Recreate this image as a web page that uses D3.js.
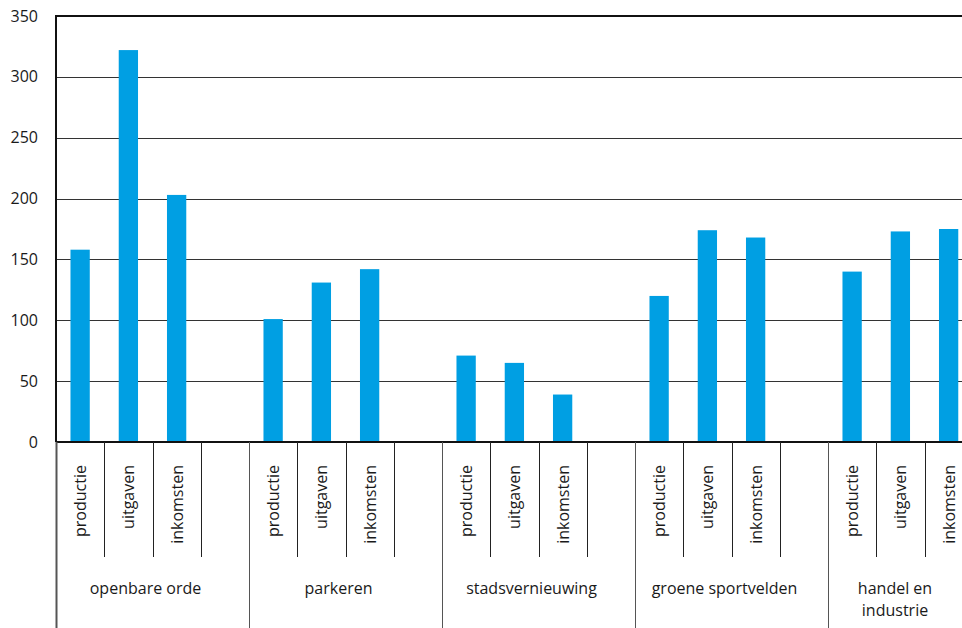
<!DOCTYPE html>
<html>
<head>
<meta charset="utf-8">
<script src="https://cdn.jsdelivr.net/npm/d3@7"></script>
<style>
  body { margin: 0; background: #fff; }
  svg { display: block; overflow: hidden; }
  text { font-family: "Open Sans", sans-serif; fill: #1a1a1a; }
</style>
</head>
<body>
<div id="chart"></div>
<script>
// categories, series and values
var groups  = ["openbare orde", "parkeren", "stadsvernieuwing", "groene sportvelden", "handel en industrie"];
var series  = ["productie", "uitgaven", "inkomsten"];
var productie = [158, 101, 71, 120, 140];
var uitgaven  = [322, 131, 65, 174, 173];
var inkomsten = [203, 142, 39, 168, 175];
var yTicks = [0, 50, 100, 150, 200, 250, 300, 350];

var values = [productie, uitgaven, inkomsten];

var width = 962, height = 628;
var plotLeft = 56, plotTop = 16, plotBase = 442;
var slotW = 48.25;  // each group has 3 bars + an empty slot
var groupW = slotW * 4;

var svg = d3.select("#chart").append("svg")
    .attr("width", width)
    .attr("height", height);

var x0 = d3.scaleBand()
    .domain(groups)
    .range([plotLeft, plotLeft + groupW * groups.length]);

var x1 = d3.scaleBand()
    .domain(series.concat([""]))
    .range([0, groupW]);

var y = d3.scaleLinear()
    .domain([0, 350])
    .range([plotBase, plotTop]);

// gridlines
svg.append("g")
  .selectAll("line")
  .data(yTicks.filter(function(d){ return d > 0 && d < 350; }))
  .enter().append("line")
    .attr("x1", plotLeft).attr("x2", width)
    .attr("y1", function(d){ return Math.round(y(d)) + 0.5; })
    .attr("y2", function(d){ return Math.round(y(d)) + 0.5; })
    .style("stroke", "#333")
    .style("stroke-width", 1);

// y tick labels
svg.append("g")
  .selectAll("text")
  .data(yTicks)
  .enter().append("text")
    .attr("x", 38)
    .attr("y", function(d){ return y(d); })
    .attr("dy", "0.35em")
    .attr("text-anchor", "end")
    .style("font-size", "16px")
    .text(function(d){ return d; });

// bars
var cells = [];
groups.forEach(function(g, gi){
  series.forEach(function(s, si){
    cells.push({group: g, serie: s, value: values[si][gi]});
  });
});

var barW = x1.bandwidth() * 0.4;
svg.append("g")
  .selectAll("rect")
  .data(cells)
  .enter().append("rect")
    .attr("x", function(d){ return x0(d.group) + x1(d.serie) + (x1.bandwidth() - barW) / 2; })
    .attr("y", function(d){ return y(d.value); })
    .attr("width", barW)
    .attr("height", function(d){ return y(0) - y(d.value); })
    .style("fill", "#009fe3");

// frame: left axis, top line, baseline
svg.append("line")
  .attr("x1", plotLeft).attr("x2", width)
  .attr("y1", plotTop).attr("y2", plotTop)
  .style("stroke", "#111").style("stroke-width", 2);
svg.append("line")
  .attr("x1", plotLeft).attr("x2", width)
  .attr("y1", plotBase).attr("y2", plotBase)
  .style("stroke", "#111").style("stroke-width", 2);
svg.append("line")
  .attr("x1", plotLeft).attr("x2", plotLeft)
  .attr("y1", plotTop - 1).attr("y2", plotBase)
  .style("stroke", "#111").style("stroke-width", 2);

// slot dividers below the axis
var slotLines = [];
groups.forEach(function(g){
  x1.domain().forEach(function(s, i){
    if (i > 0) slotLines.push(x0(g) + x1(s));
  });
});
svg.append("g")
  .selectAll("line")
  .data(slotLines)
  .enter().append("line")
    .attr("x1", function(d){ return Math.round(d) + 0.5; })
    .attr("x2", function(d){ return Math.round(d) + 0.5; })
    .attr("y1", plotBase).attr("y2", 557)
    .style("stroke", "#222").style("stroke-width", 1);

// group dividers, full height
svg.append("g")
  .selectAll("line")
  .data(groups)
  .enter().append("line")
    .attr("x1", function(d){ return Math.round(x0(d)) + 0.5; })
    .attr("x2", function(d){ return Math.round(x0(d)) + 0.5; })
    .attr("y1", plotBase).attr("y2", height)
    .style("stroke", "#555").style("stroke-width", function(d, i){ return i == 0 ? 2 : 1; });

// rotated series labels
svg.append("g")
  .selectAll("text")
  .data(cells)
  .enter().append("text")
    .attr("transform", function(d){
      var cx = x0(d.group) + x1(d.serie) + x1.bandwidth() / 2;
      return "translate(" + (cx + 6) + ",465) rotate(-90)";
    })
    .attr("text-anchor", "end")
    .style("font-size", "16px")
    .text(function(d){ return d.serie; });

// group labels, wrapped inside the visible part of the group
groups.forEach(function(g){
  var gx0 = x0(g), gx1 = gx0 + x0.bandwidth();
  var clipped = gx1 > width;
  var cx = clipped ? (gx0 + width) / 2 : (gx0 + gx1) / 2 - 7;
  var maxW = (clipped ? width : gx1) - gx0 - 10;

  var t = svg.append("text")
    .attr("text-anchor", "middle")
    .style("font-size", "16px");

  var words = g.split(" "), line = [], lineNo = 0;
  var tspan = t.append("tspan").attr("x", cx).attr("y", 594);
  words.forEach(function(w){
    line.push(w);
    tspan.text(line.join(" "));
    if (tspan.node().getComputedTextLength() > maxW && line.length > 1) {
      line.pop();
      tspan.text(line.join(" "));
      line = [w];
      lineNo++;
      tspan = t.append("tspan").attr("x", cx).attr("y", 594 + lineNo * 22).text(w);
    }
  });
});
</script>
</body>
</html>
